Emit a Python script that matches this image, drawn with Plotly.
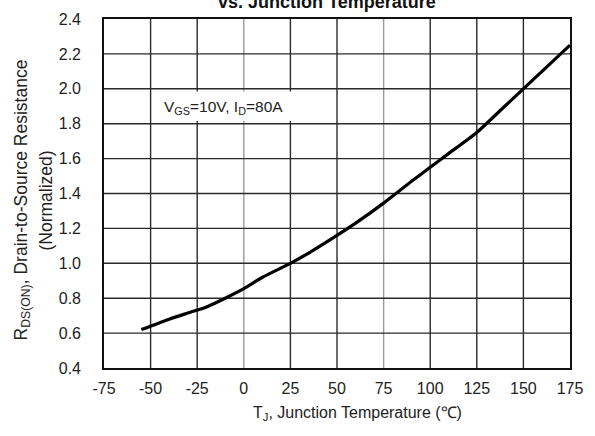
import plotly.graph_objects as go

# Data
temp_c = [-55, -40, -30, -20, -10, 0, 10, 25, 35, 50, 60, 75, 90, 100, 110, 125, 140, 150, 160, 175]
rds_norm = [0.62, 0.68, 0.715, 0.75, 0.80, 0.855, 0.92, 1.00, 1.06, 1.16, 1.23, 1.345, 1.47, 1.55, 1.63, 1.75, 1.90, 2.00, 2.10, 2.25]

x_ticks = [-75, -50, -25, 0, 25, 50, 75, 100, 125, 150, 175]
y_ticks = [0.4, 0.6, 0.8, 1.0, 1.2, 1.4, 1.6, 1.8, 2.0, 2.2, 2.4]
y_tick_text = ["0.4", "0.6", "0.8", "1.0", "1.2", "1.4", "1.6", "1.8", "2.0", "2.2", "2.4"]
light_x_grid = [0, 75]

title_text = "<b>vs. Junction Temperature</b>"
x_title = "T<sub>J</sub>, Junction Temperature (\u2103)"
y_title_1 = "R<sub>DS(ON)</sub>, Drain-to-Source Resistance"
y_title_2 = "(Normalized)"
cond_text = "V<sub>GS</sub>=10V, I<sub>D</sub>=80A"

FONT = "Liberation Sans, Arial, sans-serif"
TXT = "#222222"

fig = go.Figure()
fig.add_trace(go.Scatter(x=temp_c, y=rds_norm, mode="lines",
                         line=dict(color="black", width=3.2, shape="spline", smoothing=0.6),
                         hoverinfo="skip", showlegend=False))

shapes = []
for xv in x_ticks[1:-1]:
    col = "#9a9a9a" if xv in light_x_grid else "#2a2a2a"
    shapes.append(dict(type="line", xref="x", yref="paper", x0=xv, x1=xv, y0=0, y1=1,
                       line=dict(color=col, width=1.4), layer="below"))
for yv in y_ticks[1:-1]:
    shapes.append(dict(type="line", xref="paper", yref="y", x0=0, x1=1, y0=yv, y1=yv,
                       line=dict(color="#2a2a2a", width=1.4), layer="below"))
# white box behind the condition label
shapes.append(dict(type="rect", xref="x", yref="y", x0=-49, x1=48.5, y0=1.815, y1=1.985,
                   fillcolor="white", line=dict(width=0), layer="below"))

annotations = [
    dict(text=cond_text, xref="x", yref="y", x=-44, y=1.895, xanchor="left", yanchor="middle",
         showarrow=False, font=dict(family=FONT, size=15.5, color=TXT)),
    dict(text=title_text, xref="paper", yref="paper", x=0.5, y=1, xshift=-10, yshift=17,
         xanchor="center", yanchor="middle", showarrow=False,
         font=dict(family=FONT, size=18, color="#111111")),
    dict(text=x_title, xref="paper", yref="paper", x=0.5, y=0, xshift=20, yshift=-45,
         xanchor="center", yanchor="middle", showarrow=False,
         font=dict(family=FONT, size=16, color=TXT)),
    dict(text=y_title_1, xref="paper", yref="paper", x=0, y=0.5, xshift=-82, yshift=-7,
         xanchor="center", yanchor="middle", textangle=-90, showarrow=False,
         font=dict(family=FONT, size=17.5, color=TXT)),
    dict(text=y_title_2, xref="paper", yref="paper", x=0, y=0.5, xshift=-59, yshift=-7,
         xanchor="center", yanchor="middle", textangle=-90, showarrow=False,
         font=dict(family=FONT, size=17.5, color=TXT)),
]

fig.update_layout(
    width=595, height=436,
    margin=dict(l=104, r=25, t=19, b=68),
    paper_bgcolor="white", plot_bgcolor="white",
    shapes=shapes, annotations=annotations,
    font=dict(family=FONT, size=16, color=TXT),
    xaxis=dict(range=[-75, 175], tickvals=x_ticks, ticktext=[str(v) for v in x_ticks],
               showgrid=False, zeroline=False, showline=True, linecolor="#111111", linewidth=1.6,
               mirror=True, ticks="", ticklabelstandoff=5,
               tickfont=dict(family=FONT, size=16, color=TXT)),
    yaxis=dict(range=[0.4, 2.4], tickvals=y_ticks, ticktext=y_tick_text,
               showgrid=False, zeroline=False, showline=True, linecolor="#111111", linewidth=1.6,
               mirror=True, ticks="", ticklabelstandoff=18,
               tickfont=dict(family=FONT, size=16, color=TXT)),
)

fig.write_html("out.html", config={"displayModeBar": False},
               post_script="document.body.style.margin='0';")
